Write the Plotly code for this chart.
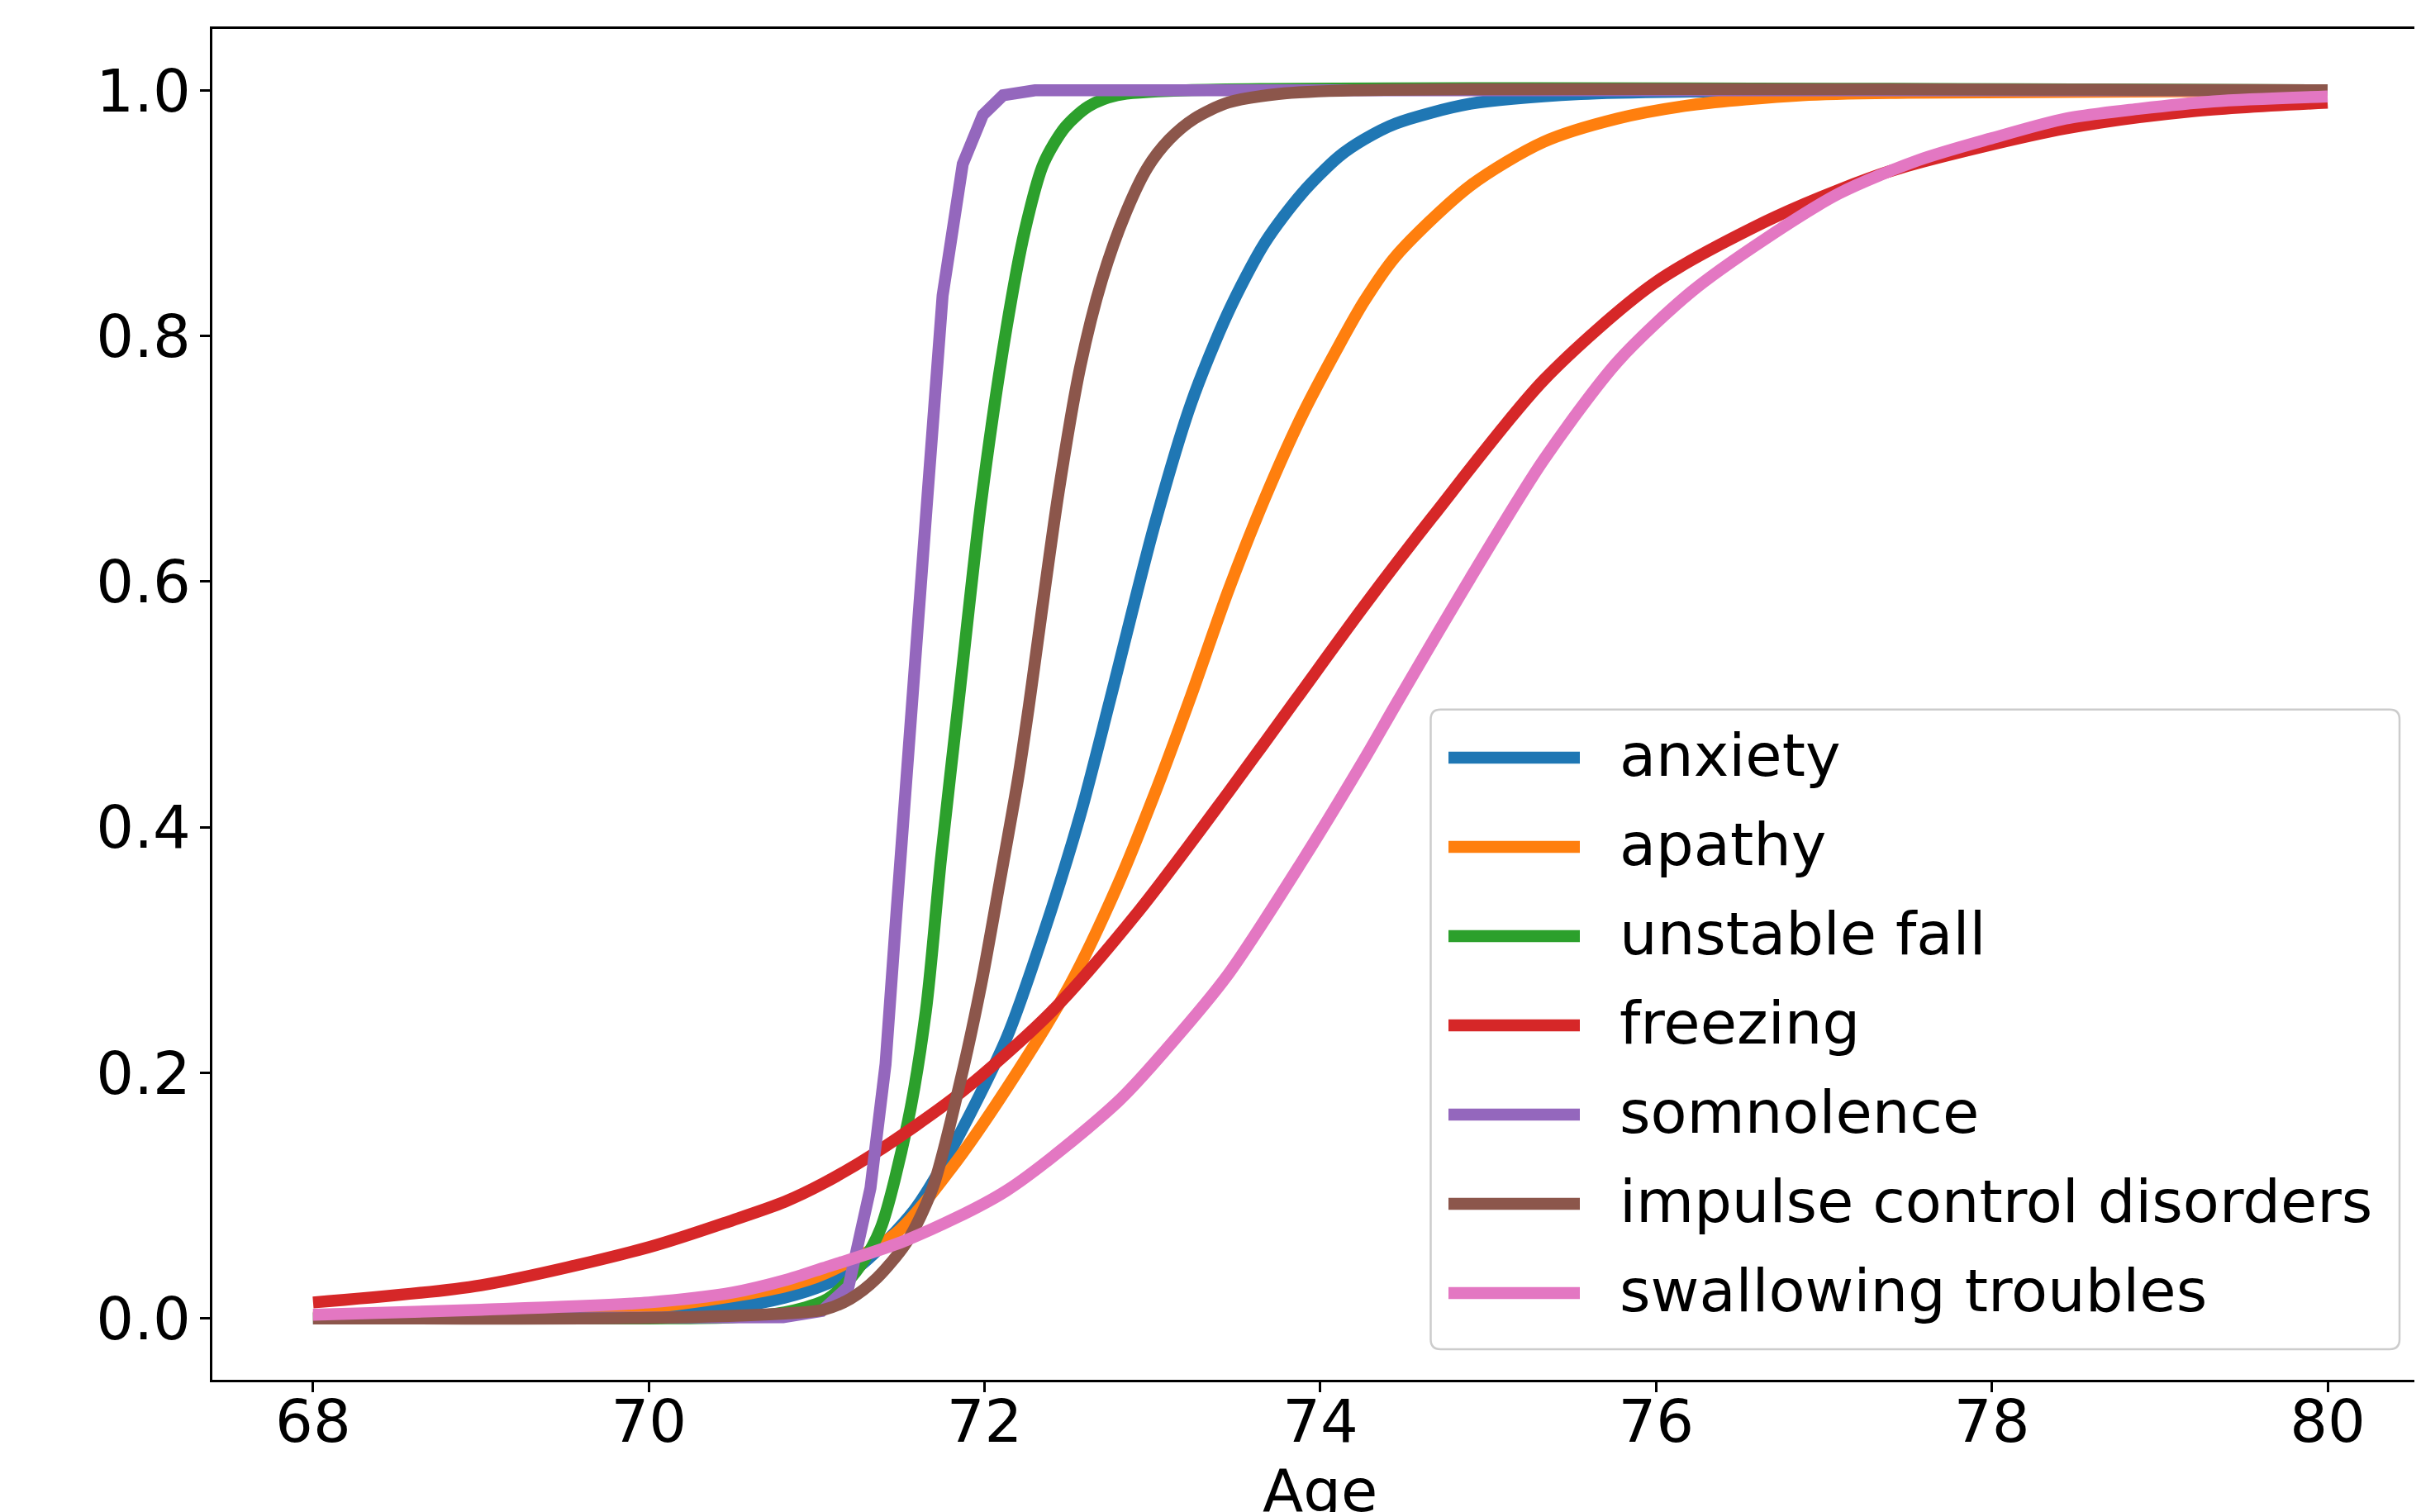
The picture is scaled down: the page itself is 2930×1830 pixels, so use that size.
import plotly.graph_objects as go

# ---------------- data ----------------
labels = ["anxiety", "apathy", "unstable fall", "freezing", "somnolence",
          "impulse control disorders", "swallowing troubles"]
colors = ["#1f77b4", "#ff7f0e", "#2ca02c", "#d62728", "#9467bd", "#8c564b", "#e377c2"]

anxiety_age = [68, 69, 70, 70.5, 70.81, 71.04, 71.25, 71.58, 71.8, 72.13, 72.35, 72.57, 72.75,
               73.01, 73.23, 73.45, 73.67, 73.89, 74.11, 74.26, 74.45, 74.89, 75.55, 76.2, 80]
anxiety_p = [0.0, 0.001, 0.004, 0.009, 0.017, 0.027, 0.042, 0.088, 0.137, 0.228, 0.313, 0.41, 0.505,
             0.645, 0.745, 0.819, 0.876, 0.916, 0.946, 0.96, 0.973, 0.989, 0.997, 0.999, 1.0]

apathy_age = [68, 69, 70, 70.5, 70.81, 71.04, 71.47, 71.8, 72.13, 72.51, 72.79, 73.01, 73.23,
              73.45, 73.67, 73.89, 74.11, 74.26, 74.45, 74.89, 75.33, 75.77, 76.21, 76.87, 77.5, 80]
apathy_p = [0.001, 0.003, 0.009, 0.018, 0.026, 0.036, 0.069, 0.122, 0.187, 0.272, 0.352, 0.426, 0.507,
            0.592, 0.668, 0.735, 0.792, 0.828, 0.865, 0.922, 0.958, 0.977, 0.988, 0.996, 0.998, 1.0]

unstable_age = [68, 70, 70.5, 70.81, 71.04, 71.14, 71.26, 71.38, 71.54, 71.65, 71.74, 71.85, 71.98,
                72.13, 72.24, 72.35, 72.48, 72.62, 72.79, 73.2, 80]
unstable_p = [0.0, 0.0, 0.001, 0.005, 0.014, 0.024, 0.043, 0.073, 0.158, 0.25, 0.374, 0.508, 0.665,
              0.806, 0.886, 0.94, 0.97, 0.987, 0.996, 1.0, 1.0]

freezing_age = [68, 69, 70, 70.5, 70.81, 71.04, 71.34, 71.85, 72.4, 72.92, 73.45, 73.86, 74.26,
                74.67, 75.33, 75.99, 76.65, 77.09, 77.46, 78.44, 79.2, 80]
freezing_p = [0.013, 0.027, 0.058, 0.080, 0.095, 0.110, 0.134, 0.183, 0.250, 0.332, 0.428, 0.505, 0.580,
              0.653, 0.764, 0.843, 0.893, 0.919, 0.937, 0.969, 0.983, 0.990]

somnolence_age = [68, 70, 70.8, 71.03, 71.19, 71.32, 71.41, 71.47, 71.54, 71.58, 71.66, 71.75,
                  71.87, 71.99, 72.11, 72.3, 80]
somnolence_p = [0.0, 0.0, 0.001, 0.006, 0.026, 0.106, 0.207, 0.321, 0.441, 0.508, 0.67, 0.833,
                0.94, 0.98, 0.996, 1.0, 1.0]

impulse_age = [68, 70, 70.81, 71.04, 71.2, 71.36, 71.54, 71.69, 71.85, 71.98, 72.09, 72.2, 72.26,
               72.44, 72.57, 72.7, 72.84, 72.97, 73.1, 73.25, 73.45, 73.75, 74.2, 80]
impulse_p = [0.0, 0.0005, 0.004, 0.007, 0.016, 0.033, 0.063, 0.106, 0.19, 0.272, 0.355, 0.44, 0.495,
             0.672, 0.775, 0.846, 0.9, 0.937, 0.96, 0.977, 0.99, 0.997, 1.0, 1.0]

swallowing_age = [68, 69, 70, 70.5, 70.81, 71.04, 71.54, 72.13, 72.79, 73.1, 73.45, 73.89, 74.26,
                  74.45, 74.89, 75.33, 75.77, 76.21, 76.65, 77.09, 77.56, 78.0, 78.44, 78.88, 79.32, 80]
swallowing_p = [0.003, 0.007, 0.013, 0.021, 0.031, 0.041, 0.064, 0.104, 0.176, 0.222, 0.28, 0.372, 0.455,
                0.50, 0.602, 0.699, 0.779, 0.836, 0.879, 0.916, 0.943, 0.961, 0.977, 0.985, 0.991, 0.995]

series_ages = [anxiety_age, apathy_age, unstable_age, freezing_age, somnolence_age, impulse_age, swallowing_age]
series_vals = [anxiety_p, apathy_p, unstable_p, freezing_p, somnolence_p, impulse_p, swallowing_p]
line_shapes = ["spline", "spline", "spline", "spline", "linear", "spline", "spline"]

x_ticks = [68, 70, 72, 74, 76, 78, 80]
y_ticks = [0.0, 0.2, 0.4, 0.6, 0.8, 1.0]
x_title = "Age"

# ---------------- layout geometry ----------------
# the page body adds a small margin, so the figure is drawn a few px right / down
OFF = 6
W, H = 2930, 1830
L, R, T, B = 255 - OFF, OFF, 33 - OFF, 162 + OFF
PW, PH = W - L - R, H - T - B
FONT = "DejaVu Sans"
LW = 14.5


def px_x(X):
    """screen pixel x -> paper coordinate"""
    return (X - OFF - L) / PW


def px_y(Y):
    """screen pixel y -> paper coordinate"""
    return (H - B - (Y - OFF)) / PH


fig = go.Figure()
for name, col, xs, ys, shp in zip(labels, colors, series_ages, series_vals, line_shapes):
    fig.add_trace(go.Scatter(x=xs, y=ys, mode="lines", name=name,
                             line=dict(color=col, width=LW, shape=shp, smoothing=0.8),
                             showlegend=False))

# ---- hand-built legend (matplotlib style) ----
bx0, bx1, by0, by1 = px_x(1729.5), px_x(2902), px_y(1631), px_y(856.7)
rx, ry = 12 / PW, 12 / PH
path = (f"M {bx0+rx},{by1} L {bx1-rx},{by1} Q {bx1},{by1} {bx1},{by1-ry} "
        f"L {bx1},{by0+ry} Q {bx1},{by0} {bx1-rx},{by0} L {bx0+rx},{by0} "
        f"Q {bx0},{by0} {bx0},{by0+ry} L {bx0},{by1-ry} Q {bx0},{by1} {bx0+rx},{by1} Z")
shapes = [dict(type="path", xref="paper", yref="paper", path=path,
               fillcolor="rgba(255,255,255,0.8)", line=dict(color="#cccccc", width=2.5),
               layer="above")]
annotations = []
for i, (name, col) in enumerate(zip(labels, colors)):
    yc = 915 + 108 * i
    shapes.append(dict(type="line", xref="paper", yref="paper",
                       x0=px_x(1751), x1=px_x(1910), y0=px_y(yc), y1=px_y(yc),
                       line=dict(color=col, width=LW), layer="above"))
    annotations.append(dict(text=name, xref="paper", yref="paper", x=px_x(1956), y=px_y(yc - 3),
                            xanchor="left", yanchor="middle", showarrow=False,
                            font=dict(family=FONT, size=72, color="black")))

annotations.append(dict(text=x_title, xref="x", yref="paper", x=74, y=px_y(1802),
                        xanchor="center", yanchor="middle", showarrow=False,
                        font=dict(family=FONT, size=72, color="black")))

fig.update_layout(
    width=W, height=H,
    margin=dict(l=L, r=R, t=T, b=B, pad=0),
    paper_bgcolor="white", plot_bgcolor="white",
    showlegend=False,
    shapes=shapes, annotations=annotations,
    font=dict(family=FONT, size=72, color="black"),
)
fig.update_xaxes(range=[67.4, 80.566], tickmode="array", tickvals=x_ticks,
                 ticktext=[str(v) for v in x_ticks],
                 showgrid=False, zeroline=False, showline=True, mirror=True,
                 linecolor="black", linewidth=2.5, ticks="outside", ticklen=12, tickwidth=2.5,
                 tickcolor="black", ticklabelstandoff=-26,
                 tickfont=dict(family=FONT, size=72, color="black"))
fig.update_yaxes(range=[-0.05, 1.05], tickmode="array", tickvals=y_ticks,
                 ticktext=[f"{v:.1f}" for v in y_ticks],
                 showgrid=False, zeroline=False, showline=True, mirror=False,
                 linecolor="black", linewidth=2.5, ticks="outside", ticklen=12, tickwidth=2.5,
                 tickcolor="black", ticklabelstandoff=-3,
                 tickfont=dict(family=FONT, size=72, color="black"))

fig.write_html("out.html")
